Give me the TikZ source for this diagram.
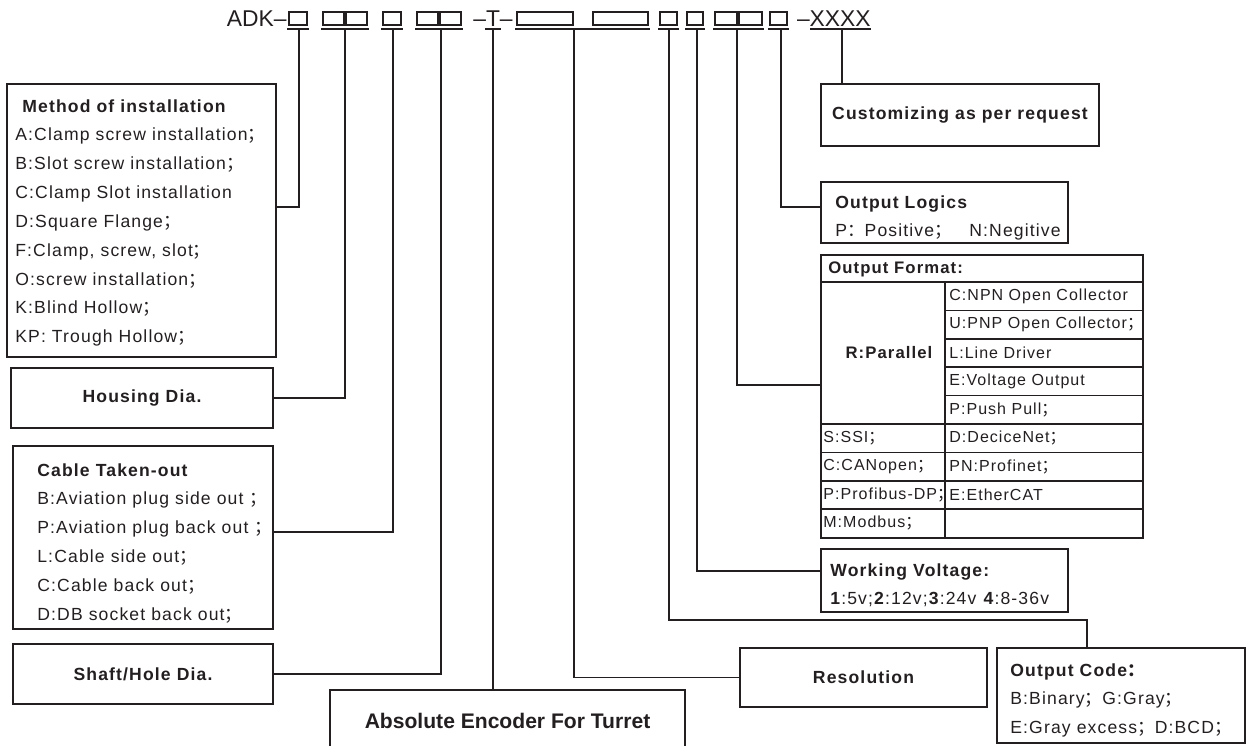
\documentclass[tikz,border=0pt]{standalone}
\usepackage{fontspec}
\setmainfont{Liberation Sans}
\newfontfamily\spc[LetterSpace=6.5]{Liberation Sans}
\newfontfamily\cjk{Noto Sans CJK SC}
\usetikzlibrary{arrows.meta,calc,positioning}
\definecolor{Ink}{HTML}{231F20}
\newcommand{\fsemi}{{\cjk ；}}
\newcommand{\fcolon}{{\cjk ：}}

\begin{document}
\begin{tikzpicture}[x=0.2mm,y=-0.2mm,
  box/.style={draw=Ink,line width=0.9pt,inner sep=0pt,text=Ink,font=\spc\bfseries\fontsize{10}{12}\selectfont},
  sz/.style 2 args={minimum width=#1*0.2mm,minimum height=#2*0.2mm},
  lst/.style={anchor=north west,inner sep=0pt,align=left,text=Ink,font=\spc\fontsize{10}{16.4}\selectfont},
  cell/.style={anchor=west,inner sep=0pt,text=Ink,font=\spc\fontsize{9.1}{11}\selectfont},
  code/.style={inner sep=0pt,text=Ink,font=\fontsize{13}{15}\selectfont},
  lead/.style={draw=Ink,line width=0.7pt},
  grid/.style={draw=Ink,line width=0.9pt},
  sym/.style={draw=Ink,line width=0.6pt}
]
\useasboundingbox (0,0) rectangle (1255,745);

\node[code,anchor=east] (adk) at (287,19) {ADK--};
\foreach \a/\b in {289/307,323/344,346/367,383/401,417/438,440/461,517/573,593/648,660/677,687/703,715/737,739/762,770/787}
  \draw[sym] (\a,25) rectangle (\b,12);
\foreach \a/\b in {287/309,321/369,381/403,415/463,485/501,515/650,658/679,685/705,713/764,768/789,810/871}
  \draw[sym] (\a,29) -- (\b,29);
\node[code] (tee) at (493,19) {--T--};
\node[code,anchor=east] (xxxx) at (871,19) {--XXXX};
\foreach \n/\x in {k1/299,k2/345,k3/393,k4/441,kt/493,k5/574,k6/669,k7/697,k8/737,k9/781,kx/842}
  \coordinate (\n) at (\x,29);

\node[box,sz={269}{273}] (method) at (141.5,220.5) {};
\node[box,sz={262}{60}] (housing) at (142,398) {Housing Dia.};
\node[box,sz={260}{183}] (cable) at (143,537.5) {};
\node[box,sz={260}{60}] (shaft) at (143,674) {Shaft/Hole Dia.};
\node[box,sz={355}{62},font=\bfseries\fontsize{12}{14}\selectfont] (encoder) at (507.5,721) {Absolute Encoder For Turret};
\node[box,sz={247}{59}] (resol) at (863.5,677.5) {Resolution};
\node[box,sz={248}{95}] (outcode) at (1121,695.5) {};
\node[box,sz={247}{63}] (volt) at (944.5,580.5) {};
\node[box,sz={322}{283}] (format) at (982,396.5) {};
\node[box,sz={247}{61}] (logic) at (944.5,212.5) {};
\node[box,sz={278}{62}] (custom) at (960,115) {Customizing as per request};

\node[lst] (methodtxt) at (15,99) {\hspace*{1.4mm}{\bfseries Method of installation}\\
  A:Clamp screw installation\fsemi\\ B:Slot screw installation\fsemi\\ C:Clamp Slot installation\\
  D:Square Flange\fsemi\\ F:Clamp, screw, slot\fsemi\\ O:screw installation\fsemi\\
  K:Blind Hollow\fsemi\\ KP: Trough Hollow\fsemi};
\node[lst] (cabletxt) at (37,463) {{\bfseries Cable Taken-out}\\
  B:Aviation plug side out \fsemi\\ P:Aviation plug back out \fsemi\\ L:Cable side out\fsemi\\
  C:Cable back out\fsemi\\ D:DB socket back out\fsemi};
\node[lst] (logictxt) at (835,195) {{\bfseries Output Logics}\\ P\fcolon Positive\fsemi\quad N:Negitive};
\node[lst] (volttxt) at (830,563) {{\bfseries Working Voltage:}\\ \textbf{1}:5v;\textbf{2}:12v;\textbf{3}:24v \textbf{4}:8-36v};
\node[lst] (outcodetxt) at (1010,663) {{\bfseries Output Code\fcolon}\\ B:Binary\fsemi G:Gray\fsemi\\ E:Gray excess\fsemi D:BCD\fsemi};

\node[cell,font=\spc\bfseries\fontsize{9.5}{11}\selectfont] (fhead) at (828,269) {Output Format:};
\node[cell,anchor=center,font=\spc\bfseries\fontsize{9.5}{11}\selectfont] (fpar) at (889,353) {R:Parallel};
\foreach \t [count=\i] in {C:NPN Open Collector,U:PNP Open Collector\fsemi,L:Line Driver,E:Voltage Output,P:Push Pull\fsemi,D:DeciceNet\fsemi,PN:Profinet\fsemi,E:EtherCAT}
  \node[cell] (fr\i) at (949,{282+28.4*(\i-0.5)}) {\t};
\foreach \t [count=\i from 6] in {S:SSI\fsemi,C:CANopen\fsemi,P:Profibus-DP\fsemi,M:Modbus\fsemi}
  \node[cell] (fl\i) at (823,{282+28.4*(\i-0.5)}) {\t};
\draw[grid] (945,282) -- (945,538);
\foreach \y in {310.4,338.8,367.2,395.6} \draw[grid] (945,\y) -- (1143,\y);
\foreach \y in {282,424,452.4,480.8,509.2} \draw[grid] (821,\y) -- (1143,\y);

\draw[lead] (k1) |- ([yshift=2.7mm]method.east);
\draw[lead] (k2) |- (housing.east);
\draw[lead] (k3) |- ([yshift=1.1mm]cable.east);
\draw[lead] (k4) |- (shaft.east);
\draw[lead] (kt) -- (kt |- encoder.north);
\draw[lead] (k5) |- (resol.west);
\draw[lead] (k6) -- ++(0,591) -| ([xshift=-6.8mm]outcode.north);
\draw[lead] (k7) |- ([yshift=1.9mm]volt.west);
\draw[lead] (k8) |- ([yshift=2.3mm]format.west);
\draw[lead] (k9) |- ([yshift=1.1mm]logic.west);
\draw[lead] (kx) -- (kx |- custom.north);
\end{tikzpicture}
\end{document}
